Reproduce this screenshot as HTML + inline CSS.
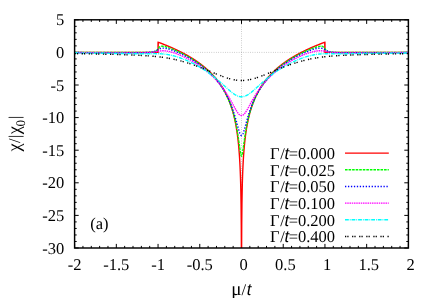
<!DOCTYPE html>
<html><head><meta charset="utf-8"><title>chart</title>
<style>html,body{margin:0;padding:0;background:#fff;}svg{display:block;will-change:transform;}text{text-rendering:geometricPrecision;}</style>
</head><body>
<svg width="425" height="298" viewBox="0 0 425 298">
<rect x="0" y="0" width="425" height="298" fill="#fff"/>
<g stroke="#000" stroke-width="0.5" stroke-opacity="0.5" stroke-dasharray="0.76 1.52" fill="none">
<line x1="74.60" y1="52.40" x2="408.40" y2="52.40"/>
<line x1="241.50" y1="19.80" x2="241.50" y2="248.00"/>
</g>
<path d="M74.60,248.00 v-4.10 M74.60,19.80 v4.10 M82.94,248.00 v-2.10 M82.94,19.80 v2.10 M91.29,248.00 v-2.10 M91.29,19.80 v2.10 M99.63,248.00 v-2.10 M99.63,19.80 v2.10 M107.98,248.00 v-2.10 M107.98,19.80 v2.10 M116.32,248.00 v-4.10 M116.32,19.80 v4.10 M124.67,248.00 v-2.10 M124.67,19.80 v2.10 M133.01,248.00 v-2.10 M133.01,19.80 v2.10 M141.36,248.00 v-2.10 M141.36,19.80 v2.10 M149.70,248.00 v-2.10 M149.70,19.80 v2.10 M158.05,248.00 v-4.10 M158.05,19.80 v4.10 M166.39,248.00 v-2.10 M166.39,19.80 v2.10 M174.74,248.00 v-2.10 M174.74,19.80 v2.10 M183.08,248.00 v-2.10 M183.08,19.80 v2.10 M191.43,248.00 v-2.10 M191.43,19.80 v2.10 M199.77,248.00 v-4.10 M199.77,19.80 v4.10 M208.12,248.00 v-2.10 M208.12,19.80 v2.10 M216.47,248.00 v-2.10 M216.47,19.80 v2.10 M224.81,248.00 v-2.10 M224.81,19.80 v2.10 M233.15,248.00 v-2.10 M233.15,19.80 v2.10 M241.50,248.00 v-4.10 M241.50,19.80 v4.10 M249.84,248.00 v-2.10 M249.84,19.80 v2.10 M258.19,248.00 v-2.10 M258.19,19.80 v2.10 M266.53,248.00 v-2.10 M266.53,19.80 v2.10 M274.88,248.00 v-2.10 M274.88,19.80 v2.10 M283.22,248.00 v-4.10 M283.22,19.80 v4.10 M291.57,248.00 v-2.10 M291.57,19.80 v2.10 M299.91,248.00 v-2.10 M299.91,19.80 v2.10 M308.26,248.00 v-2.10 M308.26,19.80 v2.10 M316.61,248.00 v-2.10 M316.61,19.80 v2.10 M324.95,248.00 v-4.10 M324.95,19.80 v4.10 M333.29,248.00 v-2.10 M333.29,19.80 v2.10 M341.64,248.00 v-2.10 M341.64,19.80 v2.10 M349.99,248.00 v-2.10 M349.99,19.80 v2.10 M358.33,248.00 v-2.10 M358.33,19.80 v2.10 M366.67,248.00 v-4.10 M366.67,19.80 v4.10 M375.02,248.00 v-2.10 M375.02,19.80 v2.10 M383.37,248.00 v-2.10 M383.37,19.80 v2.10 M391.71,248.00 v-2.10 M391.71,19.80 v2.10 M400.05,248.00 v-2.10 M400.05,19.80 v2.10 M408.40,248.00 v-4.10 M408.40,19.80 v4.10 M74.60,248.00 h4.10 M408.40,248.00 h-4.10 M74.60,241.48 h2.10 M408.40,241.48 h-2.10 M74.60,234.96 h2.10 M408.40,234.96 h-2.10 M74.60,228.44 h2.10 M408.40,228.44 h-2.10 M74.60,221.92 h2.10 M408.40,221.92 h-2.10 M74.60,215.40 h4.10 M408.40,215.40 h-4.10 M74.60,208.88 h2.10 M408.40,208.88 h-2.10 M74.60,202.36 h2.10 M408.40,202.36 h-2.10 M74.60,195.84 h2.10 M408.40,195.84 h-2.10 M74.60,189.32 h2.10 M408.40,189.32 h-2.10 M74.60,182.80 h4.10 M408.40,182.80 h-4.10 M74.60,176.28 h2.10 M408.40,176.28 h-2.10 M74.60,169.76 h2.10 M408.40,169.76 h-2.10 M74.60,163.24 h2.10 M408.40,163.24 h-2.10 M74.60,156.72 h2.10 M408.40,156.72 h-2.10 M74.60,150.20 h4.10 M408.40,150.20 h-4.10 M74.60,143.68 h2.10 M408.40,143.68 h-2.10 M74.60,137.16 h2.10 M408.40,137.16 h-2.10 M74.60,130.64 h2.10 M408.40,130.64 h-2.10 M74.60,124.12 h2.10 M408.40,124.12 h-2.10 M74.60,117.60 h4.10 M408.40,117.60 h-4.10 M74.60,111.08 h2.10 M408.40,111.08 h-2.10 M74.60,104.56 h2.10 M408.40,104.56 h-2.10 M74.60,98.04 h2.10 M408.40,98.04 h-2.10 M74.60,91.52 h2.10 M408.40,91.52 h-2.10 M74.60,85.00 h4.10 M408.40,85.00 h-4.10 M74.60,78.48 h2.10 M408.40,78.48 h-2.10 M74.60,71.96 h2.10 M408.40,71.96 h-2.10 M74.60,65.44 h2.10 M408.40,65.44 h-2.10 M74.60,58.92 h2.10 M408.40,58.92 h-2.10 M74.60,52.40 h4.10 M408.40,52.40 h-4.10 M74.60,45.88 h2.10 M408.40,45.88 h-2.10 M74.60,39.36 h2.10 M408.40,39.36 h-2.10 M74.60,32.84 h2.10 M408.40,32.84 h-2.10 M74.60,26.32 h2.10 M408.40,26.32 h-2.10 M74.60,19.80 h4.10 M408.40,19.80 h-4.10" stroke="#000" stroke-width="1.0" fill="none"/>
<clipPath id="cp"><rect x="74.60" y="19.80" width="333.80" height="228.20"/></clipPath>
<g fill="none" stroke-width="1.40" stroke-linejoin="miter" clip-path="url(#cp)">
<path d="M74.60,52.40 L158.05,52.40 L158.05,42.16 L158.05,52.40 L158.26,42.24 L158.47,42.31 L158.68,42.39 L158.89,42.47 L159.10,42.55 L159.30,42.62 L159.51,42.70 L159.72,42.78 L159.93,42.86 L160.14,42.94 L160.35,43.02 L160.56,43.10 L160.77,43.18 L160.98,43.26 L161.19,43.34 L161.40,43.42 L161.61,43.50 L161.81,43.58 L162.02,43.66 L162.23,43.74 L162.44,43.82 L162.65,43.90 L162.86,43.98 L163.07,44.06 L163.28,44.15 L163.49,44.23 L163.70,44.31 L163.91,44.39 L164.11,44.48 L164.32,44.56 L164.53,44.64 L164.74,44.73 L164.95,44.81 L165.16,44.89 L165.37,44.98 L165.58,45.06 L165.79,45.15 L166.00,45.23 L166.21,45.32 L166.42,45.40 L166.62,45.49 L166.83,45.58 L167.04,45.66 L167.25,45.75 L167.46,45.83 L167.67,45.92 L167.88,46.01 L168.09,46.10 L168.30,46.18 L168.51,46.27 L168.72,46.36 L168.92,46.45 L169.13,46.54 L169.34,46.63 L169.55,46.72 L169.76,46.80 L169.97,46.89 L170.18,46.98 L170.39,47.07 L170.60,47.16 L170.81,47.26 L171.02,47.35 L171.22,47.44 L171.43,47.53 L171.64,47.62 L171.85,47.71 L172.06,47.81 L172.27,47.90 L172.48,47.99 L172.69,48.08 L172.90,48.18 L173.11,48.27 L173.32,48.37 L173.53,48.46 L173.73,48.56 L173.94,48.65 L174.15,48.75 L174.36,48.84 L174.57,48.94 L174.78,49.03 L174.99,49.13 L175.20,49.23 L175.41,49.32 L175.62,49.42 L175.83,49.52 L176.03,49.62 L176.24,49.71 L176.45,49.81 L176.66,49.91 L176.87,50.01 L177.08,50.11 L177.29,50.21 L177.50,50.31 L177.71,50.41 L177.92,50.51 L178.13,50.61 L178.34,50.72 L178.54,50.82 L178.75,50.92 L178.96,51.02 L179.17,51.12 L179.38,51.23 L179.59,51.33 L179.80,51.44 L180.01,51.54 L180.22,51.64 L180.43,51.75 L180.64,51.86 L180.84,51.96 L181.05,52.07 L181.26,52.17 L181.47,52.28 L181.68,52.39 L181.89,52.50 L182.10,52.60 L182.31,52.71 L182.52,52.82 L182.73,52.93 L182.94,53.04 L183.15,53.15 L183.35,53.26 L183.56,53.37 L183.77,53.48 L183.98,53.59 L184.19,53.70 L184.40,53.82 L184.61,53.93 L184.82,54.04 L185.03,54.16 L185.24,54.27 L185.45,54.38 L185.65,54.50 L185.86,54.61 L186.07,54.73 L186.28,54.85 L186.49,54.96 L186.70,55.08 L186.91,55.20 L187.12,55.32 L187.33,55.43 L187.54,55.55 L187.75,55.67 L187.96,55.79 L188.16,55.91 L188.37,56.03 L188.58,56.15 L188.79,56.28 L189.00,56.40 L189.21,56.52 L189.42,56.64 L189.63,56.77 L189.84,56.89 L190.05,57.02 L190.26,57.14 L190.46,57.27 L190.67,57.39 L190.88,57.52 L191.09,57.65 L191.30,57.77 L191.51,57.90 L191.72,58.03 L191.93,58.16 L192.14,58.29 L192.35,58.42 L192.56,58.55 L192.77,58.68 L192.97,58.82 L193.18,58.95 L193.39,59.08 L193.60,59.22 L193.81,59.35 L194.02,59.49 L194.23,59.62 L194.44,59.76 L194.65,59.89 L194.86,60.03 L195.07,60.17 L195.27,60.31 L195.48,60.45 L195.69,60.59 L195.90,60.73 L196.11,60.87 L196.32,61.01 L196.53,61.15 L196.74,61.30 L196.95,61.44 L197.16,61.59 L197.37,61.73 L197.57,61.88 L197.78,62.02 L197.99,62.17 L198.20,62.32 L198.41,62.47 L198.62,62.62 L198.83,62.77 L199.04,62.92 L199.25,63.07 L199.46,63.22 L199.67,63.38 L199.88,63.53 L200.08,63.68 L200.29,63.84 L200.50,64.00 L200.71,64.15 L200.92,64.31 L201.13,64.47 L201.34,64.63 L201.55,64.79 L201.76,64.95 L201.97,65.11 L202.18,65.28 L202.38,65.44 L202.59,65.60 L202.80,65.77 L203.01,65.94 L203.22,66.10 L203.43,66.27 L203.64,66.44 L203.85,66.61 L204.06,66.78 L204.27,66.95 L204.48,67.13 L204.69,67.30 L204.89,67.48 L205.10,67.65 L205.31,67.83 L205.52,68.01 L205.73,68.19 L205.94,68.37 L206.15,68.55 L206.36,68.73 L206.57,68.91 L206.78,69.10 L206.99,69.28 L207.19,69.47 L207.40,69.66 L207.61,69.85 L207.82,70.04 L208.03,70.23 L208.24,70.42 L208.45,70.62 L208.66,70.81 L208.87,71.01 L209.08,71.20 L209.29,71.40 L209.50,71.60 L209.70,71.81 L209.91,72.01 L210.12,72.21 L210.33,72.42 L210.54,72.62 L210.75,72.83 L210.96,73.04 L211.17,73.25 L211.38,73.47 L211.59,73.68 L211.80,73.90 L212.00,74.11 L212.21,74.33 L212.42,74.55 L212.63,74.77 L212.84,75.00 L213.05,75.22 L213.26,75.45 L213.47,75.68 L213.68,75.91 L213.89,76.14 L214.10,76.37 L214.31,76.61 L214.51,76.84 L214.72,77.08 L214.93,77.32 L215.14,77.57 L215.35,77.81 L215.56,78.06 L215.77,78.31 L215.98,78.56 L216.19,78.81 L216.40,79.07 L216.61,79.32 L216.81,79.58 L217.02,79.84 L217.23,80.11 L217.44,80.37 L217.65,80.64 L217.86,80.91 L218.07,81.19 L218.28,81.46 L218.49,81.74 L218.70,82.02 L218.91,82.30 L219.12,82.59 L219.32,82.88 L219.53,83.17 L219.74,83.46 L219.95,83.76 L220.16,84.06 L220.37,84.36 L220.58,84.67 L220.79,84.97 L221.00,85.29 L221.21,85.60 L221.42,85.92 L221.62,86.24 L221.83,86.57 L222.04,86.89 L222.25,87.23 L222.46,87.56 L222.67,87.90 L222.88,88.24 L223.09,88.59 L223.30,88.94 L223.51,89.30 L223.72,89.66 L223.92,90.02 L224.13,90.39 L224.34,90.76 L224.55,91.14 L224.76,91.52 L224.97,91.91 L225.18,92.30 L225.39,92.69 L225.60,93.09 L225.81,93.50 L226.02,93.91 L226.23,94.33 L226.43,94.75 L226.64,95.18 L226.85,95.62 L227.06,96.06 L227.27,96.51 L227.48,96.96 L227.69,97.43 L227.90,97.90 L228.11,98.37 L228.32,98.85 L228.53,99.35 L228.73,99.85 L228.94,100.35 L229.15,100.87 L229.36,101.39 L229.57,101.93 L229.78,102.47 L229.99,103.02 L230.20,103.59 L230.41,104.16 L230.62,104.75 L230.83,105.34 L231.04,105.95 L231.24,106.57 L231.45,107.20 L231.66,107.85 L231.87,108.51 L232.08,109.18 L232.29,109.87 L232.50,110.58 L232.71,111.30 L232.92,112.04 L233.13,112.80 L233.34,113.58 L233.54,114.37 L233.75,115.19 L233.96,116.03 L234.17,116.90 L234.38,117.79 L234.59,118.70 L234.80,119.65 L235.01,120.62 L235.22,121.63 L235.43,122.67 L235.64,123.75 L235.85,124.86 L236.05,126.02 L236.26,127.22 L236.47,128.47 L236.68,129.78 L236.89,131.14 L237.10,132.57 L237.31,134.07 L237.52,135.64 L237.73,137.30 L237.94,139.05 L238.15,140.91 L238.35,142.89 L238.56,145.00 L238.77,147.27 L238.98,149.72 L239.19,152.38 L239.40,155.30 L239.61,158.53 L239.82,162.13 L240.03,166.21 L240.24,170.92 L240.45,176.48 L240.66,183.27 L240.86,192.01 L241.07,204.27 L241.28,224.97 L241.40,248.00 L241.60,248.00 L241.72,224.97 L241.93,204.27 L242.14,192.01 L242.34,183.27 L242.55,176.48 L242.76,170.92 L242.97,166.21 L243.18,162.13 L243.39,158.53 L243.60,155.30 L243.81,152.38 L244.02,149.72 L244.23,147.27 L244.44,145.00 L244.65,142.89 L244.85,140.91 L245.06,139.05 L245.27,137.30 L245.48,135.64 L245.69,134.07 L245.90,132.57 L246.11,131.14 L246.32,129.78 L246.53,128.47 L246.74,127.22 L246.95,126.02 L247.15,124.86 L247.36,123.75 L247.57,122.67 L247.78,121.63 L247.99,120.62 L248.20,119.65 L248.41,118.70 L248.62,117.79 L248.83,116.90 L249.04,116.03 L249.25,115.19 L249.46,114.37 L249.66,113.58 L249.87,112.80 L250.08,112.04 L250.29,111.30 L250.50,110.58 L250.71,109.87 L250.92,109.18 L251.13,108.51 L251.34,107.85 L251.55,107.20 L251.76,106.57 L251.96,105.95 L252.17,105.34 L252.38,104.75 L252.59,104.16 L252.80,103.59 L253.01,103.02 L253.22,102.47 L253.43,101.93 L253.64,101.39 L253.85,100.87 L254.06,100.35 L254.27,99.85 L254.47,99.35 L254.68,98.85 L254.89,98.37 L255.10,97.90 L255.31,97.43 L255.52,96.96 L255.73,96.51 L255.94,96.06 L256.15,95.62 L256.36,95.18 L256.57,94.75 L256.77,94.33 L256.98,93.91 L257.19,93.50 L257.40,93.09 L257.61,92.69 L257.82,92.30 L258.03,91.91 L258.24,91.52 L258.45,91.14 L258.66,90.76 L258.87,90.39 L259.08,90.02 L259.28,89.66 L259.49,89.30 L259.70,88.94 L259.91,88.59 L260.12,88.24 L260.33,87.90 L260.54,87.56 L260.75,87.23 L260.96,86.89 L261.17,86.57 L261.38,86.24 L261.58,85.92 L261.79,85.60 L262.00,85.29 L262.21,84.97 L262.42,84.67 L262.63,84.36 L262.84,84.06 L263.05,83.76 L263.26,83.46 L263.47,83.17 L263.68,82.88 L263.88,82.59 L264.09,82.30 L264.30,82.02 L264.51,81.74 L264.72,81.46 L264.93,81.19 L265.14,80.91 L265.35,80.64 L265.56,80.37 L265.77,80.11 L265.98,79.84 L266.19,79.58 L266.39,79.32 L266.60,79.07 L266.81,78.81 L267.02,78.56 L267.23,78.31 L267.44,78.06 L267.65,77.81 L267.86,77.57 L268.07,77.32 L268.28,77.08 L268.49,76.84 L268.69,76.61 L268.90,76.37 L269.11,76.14 L269.32,75.91 L269.53,75.68 L269.74,75.45 L269.95,75.22 L270.16,75.00 L270.37,74.77 L270.58,74.55 L270.79,74.33 L271.00,74.11 L271.20,73.90 L271.41,73.68 L271.62,73.47 L271.83,73.25 L272.04,73.04 L272.25,72.83 L272.46,72.62 L272.67,72.42 L272.88,72.21 L273.09,72.01 L273.30,71.81 L273.50,71.60 L273.71,71.40 L273.92,71.20 L274.13,71.01 L274.34,70.81 L274.55,70.62 L274.76,70.42 L274.97,70.23 L275.18,70.04 L275.39,69.85 L275.60,69.66 L275.81,69.47 L276.01,69.28 L276.22,69.10 L276.43,68.91 L276.64,68.73 L276.85,68.55 L277.06,68.37 L277.27,68.19 L277.48,68.01 L277.69,67.83 L277.90,67.65 L278.11,67.48 L278.31,67.30 L278.52,67.13 L278.73,66.95 L278.94,66.78 L279.15,66.61 L279.36,66.44 L279.57,66.27 L279.78,66.10 L279.99,65.94 L280.20,65.77 L280.41,65.60 L280.62,65.44 L280.82,65.28 L281.03,65.11 L281.24,64.95 L281.45,64.79 L281.66,64.63 L281.87,64.47 L282.08,64.31 L282.29,64.15 L282.50,64.00 L282.71,63.84 L282.92,63.68 L283.12,63.53 L283.33,63.38 L283.54,63.22 L283.75,63.07 L283.96,62.92 L284.17,62.77 L284.38,62.62 L284.59,62.47 L284.80,62.32 L285.01,62.17 L285.22,62.02 L285.43,61.88 L285.63,61.73 L285.84,61.59 L286.05,61.44 L286.26,61.30 L286.47,61.15 L286.68,61.01 L286.89,60.87 L287.10,60.73 L287.31,60.59 L287.52,60.45 L287.73,60.31 L287.93,60.17 L288.14,60.03 L288.35,59.89 L288.56,59.76 L288.77,59.62 L288.98,59.49 L289.19,59.35 L289.40,59.22 L289.61,59.08 L289.82,58.95 L290.03,58.82 L290.23,58.68 L290.44,58.55 L290.65,58.42 L290.86,58.29 L291.07,58.16 L291.28,58.03 L291.49,57.90 L291.70,57.77 L291.91,57.65 L292.12,57.52 L292.33,57.39 L292.54,57.27 L292.74,57.14 L292.95,57.02 L293.16,56.89 L293.37,56.77 L293.58,56.64 L293.79,56.52 L294.00,56.40 L294.21,56.28 L294.42,56.15 L294.63,56.03 L294.84,55.91 L295.04,55.79 L295.25,55.67 L295.46,55.55 L295.67,55.43 L295.88,55.32 L296.09,55.20 L296.30,55.08 L296.51,54.96 L296.72,54.85 L296.93,54.73 L297.14,54.61 L297.35,54.50 L297.55,54.38 L297.76,54.27 L297.97,54.16 L298.18,54.04 L298.39,53.93 L298.60,53.82 L298.81,53.70 L299.02,53.59 L299.23,53.48 L299.44,53.37 L299.65,53.26 L299.85,53.15 L300.06,53.04 L300.27,52.93 L300.48,52.82 L300.69,52.71 L300.90,52.60 L301.11,52.50 L301.32,52.39 L301.53,52.28 L301.74,52.17 L301.95,52.07 L302.16,51.96 L302.36,51.86 L302.57,51.75 L302.78,51.64 L302.99,51.54 L303.20,51.44 L303.41,51.33 L303.62,51.23 L303.83,51.12 L304.04,51.02 L304.25,50.92 L304.46,50.82 L304.66,50.72 L304.87,50.61 L305.08,50.51 L305.29,50.41 L305.50,50.31 L305.71,50.21 L305.92,50.11 L306.13,50.01 L306.34,49.91 L306.55,49.81 L306.76,49.71 L306.97,49.62 L307.17,49.52 L307.38,49.42 L307.59,49.32 L307.80,49.23 L308.01,49.13 L308.22,49.03 L308.43,48.94 L308.64,48.84 L308.85,48.75 L309.06,48.65 L309.27,48.56 L309.47,48.46 L309.68,48.37 L309.89,48.27 L310.10,48.18 L310.31,48.08 L310.52,47.99 L310.73,47.90 L310.94,47.81 L311.15,47.71 L311.36,47.62 L311.57,47.53 L311.78,47.44 L311.98,47.35 L312.19,47.26 L312.40,47.16 L312.61,47.07 L312.82,46.98 L313.03,46.89 L313.24,46.80 L313.45,46.72 L313.66,46.63 L313.87,46.54 L314.08,46.45 L314.28,46.36 L314.49,46.27 L314.70,46.18 L314.91,46.10 L315.12,46.01 L315.33,45.92 L315.54,45.83 L315.75,45.75 L315.96,45.66 L316.17,45.58 L316.38,45.49 L316.58,45.40 L316.79,45.32 L317.00,45.23 L317.21,45.15 L317.42,45.06 L317.63,44.98 L317.84,44.89 L318.05,44.81 L318.26,44.73 L318.47,44.64 L318.68,44.56 L318.89,44.48 L319.09,44.39 L319.30,44.31 L319.51,44.23 L319.72,44.15 L319.93,44.06 L320.14,43.98 L320.35,43.90 L320.56,43.82 L320.77,43.74 L320.98,43.66 L321.19,43.58 L321.39,43.50 L321.60,43.42 L321.81,43.34 L322.02,43.26 L322.23,43.18 L322.44,43.10 L322.65,43.02 L322.86,42.94 L323.07,42.86 L323.28,42.78 L323.49,42.70 L323.70,42.62 L323.90,42.55 L324.11,42.47 L324.32,42.39 L324.53,42.31 L324.74,42.24 L324.95,52.40 L324.95,42.16 L324.95,52.40 L408.40,52.40" stroke="#ff0000"/>
<path d="M74.60,52.48 L75.43,52.48 L76.27,52.48 L77.10,52.48 L77.94,52.48 L78.77,52.48 L79.61,52.48 L80.44,52.49 L81.28,52.49 L82.11,52.49 L82.94,52.49 L83.78,52.49 L84.61,52.49 L85.45,52.49 L86.28,52.49 L87.12,52.49 L87.95,52.49 L88.79,52.49 L89.62,52.50 L90.46,52.50 L91.29,52.50 L92.12,52.50 L92.96,52.50 L93.79,52.50 L94.63,52.50 L95.46,52.50 L96.30,52.50 L97.13,52.50 L97.97,52.51 L98.80,52.51 L99.63,52.51 L100.47,52.51 L101.30,52.51 L102.14,52.51 L102.97,52.51 L103.81,52.51 L104.64,52.51 L105.48,52.52 L106.31,52.52 L107.15,52.52 L107.98,52.52 L108.81,52.52 L109.65,52.52 L110.48,52.52 L111.32,52.52 L112.15,52.53 L112.99,52.53 L113.82,52.53 L114.66,52.53 L115.49,52.53 L116.32,52.53 L117.16,52.53 L117.99,52.53 L118.83,52.54 L119.66,52.54 L120.50,52.54 L121.33,52.54 L122.17,52.54 L123.00,52.54 L123.84,52.54 L124.67,52.54 L125.50,52.54 L126.34,52.54 L127.17,52.55 L128.01,52.55 L128.84,52.55 L129.68,52.55 L130.51,52.55 L131.35,52.55 L132.18,52.55 L133.01,52.55 L133.85,52.55 L134.68,52.55 L135.52,52.54 L136.35,52.54 L137.19,52.54 L138.02,52.54 L138.86,52.53 L139.69,52.53 L140.53,52.53 L141.36,52.52 L142.19,52.51 L143.03,52.50 L143.86,52.49 L144.70,52.48 L145.53,52.46 L146.37,52.45 L147.20,52.42 L148.04,52.39 L148.87,52.36 L149.70,52.31 L150.12,52.29 L150.54,52.26 L150.54,52.26 L150.96,52.22 L151.37,52.19 L151.79,52.14 L152.21,52.09 L152.21,52.09 L152.63,52.03 L153.04,51.96 L153.46,51.88 L153.88,51.78 L153.88,51.78 L154.29,51.67 L154.71,51.53 L155.13,51.36 L155.55,51.15 L155.96,50.90 L156.38,50.58 L156.80,50.19 L157.22,49.73 L157.63,49.20 L158.05,48.63 L158.47,48.07 L158.88,47.57 L159.30,47.16 L159.72,46.83 L160.14,46.59 L160.55,46.42 L160.97,46.31 L161.39,46.24 L161.39,46.24 L161.81,46.21 L162.22,46.21 L162.22,46.21 L162.64,46.23 L163.06,46.28 L163.06,46.28 L163.47,46.33 L163.89,46.40 L163.89,46.40 L164.31,46.49 L164.73,46.58 L164.73,46.58 L165.14,46.68 L165.56,46.79 L165.56,46.79 L165.98,46.90 L166.39,47.02 L166.39,47.02 L167.23,47.28 L168.06,47.55 L168.90,47.84 L169.73,48.13 L170.57,48.44 L171.40,48.76 L172.24,49.09 L173.07,49.43 L173.91,49.77 L174.74,50.12 L175.57,50.48 L176.41,50.85 L177.24,51.22 L178.08,51.60 L178.91,51.99 L179.75,52.38 L180.58,52.78 L181.42,53.19 L182.25,53.60 L183.08,54.02 L183.92,54.45 L184.75,54.89 L185.59,55.33 L186.42,55.78 L187.26,56.24 L188.09,56.70 L188.93,57.18 L189.76,57.66 L190.60,58.15 L191.43,58.65 L192.26,59.15 L193.10,59.67 L193.93,60.20 L194.77,60.73 L195.60,61.28 L196.44,61.83 L197.27,62.40 L198.11,62.98 L198.94,63.57 L199.77,64.17 L200.61,64.79 L201.44,65.41 L202.28,66.05 L203.11,66.71 L203.95,67.38 L204.78,68.06 L205.62,68.76 L206.45,69.48 L207.29,70.21 L208.12,70.96 L208.95,71.73 L209.79,72.53 L210.62,73.34 L211.46,74.17 L212.29,75.03 L213.13,75.92 L213.96,76.82 L214.80,77.76 L215.63,78.73 L216.46,79.73 L217.30,80.76 L218.13,81.83 L218.97,82.93 L219.80,84.08 L220.64,85.27 L221.47,86.51 L222.31,87.80 L223.14,89.15 L223.98,90.56 L224.81,92.04 L225.64,93.58 L226.48,95.21 L227.31,96.93 L228.15,98.75 L228.98,100.69 L228.98,100.69 L229.19,101.19 L229.40,101.70 L229.61,102.22 L229.82,102.74 L229.82,102.74 L230.03,103.28 L230.23,103.82 L230.44,104.38 L230.65,104.94 L230.65,104.94 L230.86,105.52 L231.07,106.10 L231.28,106.70 L231.49,107.31 L231.49,107.31 L231.69,107.93 L231.90,108.56 L232.11,109.20 L232.32,109.86 L232.32,109.86 L232.53,110.53 L232.74,111.21 L232.95,111.91 L233.15,112.63 L233.15,112.63 L233.36,113.36 L233.57,114.11 L233.78,114.87 L233.99,115.65 L233.99,115.65 L234.20,116.46 L234.41,117.28 L234.62,118.12 L234.82,118.98 L234.82,118.98 L235.03,119.87 L235.24,120.78 L235.45,121.71 L235.66,122.67 L235.66,122.67 L235.87,123.66 L236.08,124.67 L236.28,125.72 L236.49,126.79 L236.49,126.79 L236.70,127.90 L236.91,129.04 L237.12,130.22 L237.33,131.43 L237.33,131.43 L237.54,132.67 L237.74,133.96 L237.95,135.28 L238.16,136.64 L238.16,136.64 L238.37,138.04 L238.58,139.48 L238.79,140.95 L239.00,142.45 L239.00,142.45 L239.21,143.97 L239.41,145.50 L239.62,147.04 L239.83,148.55 L239.83,148.55 L240.04,150.02 L240.25,151.43 L240.46,152.72 L240.67,153.87 L240.67,153.87 L240.87,154.83 L241.08,155.55 L241.29,156.00 L241.50,156.15 L241.71,156.00 L241.92,155.55 L242.13,154.83 L242.33,153.87 L242.33,153.87 L242.54,152.72 L242.75,151.43 L242.96,150.02 L243.17,148.55 L243.38,147.04 L243.59,145.50 L243.79,143.97 L244.00,142.45 L244.00,142.45 L244.21,140.95 L244.42,139.48 L244.63,138.04 L244.84,136.64 L244.84,136.64 L245.05,135.28 L245.26,133.96 L245.46,132.67 L245.67,131.43 L245.67,131.43 L245.88,130.22 L246.09,129.04 L246.30,127.90 L246.51,126.79 L246.51,126.79 L246.72,125.72 L246.92,124.67 L247.13,123.66 L247.34,122.67 L247.34,122.67 L247.55,121.71 L247.76,120.78 L247.97,119.87 L248.18,118.98 L248.18,118.98 L248.38,118.12 L248.59,117.28 L248.80,116.46 L249.01,115.65 L249.01,115.65 L249.22,114.87 L249.43,114.11 L249.64,113.36 L249.84,112.63 L249.84,112.63 L250.05,111.91 L250.26,111.21 L250.47,110.53 L250.68,109.86 L250.68,109.86 L250.89,109.20 L251.10,108.56 L251.31,107.93 L251.51,107.31 L251.51,107.31 L251.72,106.70 L251.93,106.10 L252.14,105.52 L252.35,104.94 L252.35,104.94 L252.56,104.38 L252.77,103.82 L252.97,103.28 L253.18,102.74 L253.18,102.74 L253.39,102.22 L253.60,101.70 L253.81,101.19 L254.02,100.69 L254.02,100.69 L254.85,98.75 L255.69,96.93 L256.52,95.21 L257.36,93.58 L258.19,92.04 L259.02,90.56 L259.86,89.15 L260.69,87.80 L261.53,86.51 L262.36,85.27 L263.20,84.08 L264.03,82.93 L264.87,81.83 L265.70,80.76 L266.53,79.73 L267.37,78.73 L268.20,77.76 L269.04,76.82 L269.87,75.92 L270.71,75.03 L271.54,74.17 L272.38,73.34 L273.21,72.53 L274.05,71.73 L274.88,70.96 L275.71,70.21 L276.55,69.48 L277.38,68.76 L278.22,68.06 L279.05,67.38 L279.89,66.71 L280.72,66.05 L281.56,65.41 L282.39,64.79 L283.22,64.17 L284.06,63.57 L284.89,62.98 L285.73,62.40 L286.56,61.83 L287.40,61.28 L288.23,60.73 L289.07,60.20 L289.90,59.67 L290.74,59.15 L291.57,58.65 L292.40,58.15 L293.24,57.66 L294.07,57.18 L294.91,56.70 L295.74,56.24 L296.58,55.78 L297.41,55.33 L298.25,54.89 L299.08,54.45 L299.91,54.02 L300.75,53.60 L301.58,53.19 L302.42,52.78 L303.25,52.38 L304.09,51.99 L304.92,51.60 L305.76,51.22 L306.59,50.85 L307.43,50.48 L308.26,50.12 L309.09,49.77 L309.93,49.43 L310.76,49.09 L311.60,48.76 L312.43,48.44 L313.27,48.13 L314.10,47.84 L314.94,47.55 L315.77,47.28 L316.60,47.02 L316.60,47.02 L317.02,46.90 L317.44,46.79 L317.44,46.79 L317.86,46.68 L318.27,46.58 L318.27,46.58 L318.69,46.49 L319.11,46.40 L319.11,46.40 L319.53,46.33 L319.94,46.28 L319.94,46.28 L320.36,46.23 L320.78,46.21 L320.78,46.21 L321.19,46.21 L321.61,46.24 L321.61,46.24 L322.03,46.31 L322.45,46.42 L322.45,46.42 L322.86,46.59 L323.28,46.83 L323.28,46.83 L323.70,47.16 L324.12,47.57 L324.12,47.57 L324.53,48.07 L324.95,48.63 L325.37,49.20 L325.78,49.73 L325.78,49.73 L326.20,50.19 L326.62,50.58 L327.04,50.90 L327.45,51.15 L327.45,51.15 L327.87,51.36 L328.29,51.53 L328.71,51.67 L329.12,51.78 L329.12,51.78 L329.54,51.88 L329.96,51.96 L330.37,52.03 L330.79,52.09 L330.79,52.09 L331.21,52.14 L331.63,52.19 L332.04,52.22 L332.46,52.26 L332.46,52.26 L332.88,52.29 L333.29,52.31 L334.13,52.36 L334.96,52.39 L335.80,52.42 L336.63,52.45 L337.47,52.46 L338.30,52.48 L339.14,52.49 L339.97,52.50 L340.81,52.51 L341.64,52.52 L342.47,52.53 L343.31,52.53 L344.14,52.53 L344.98,52.54 L345.81,52.54 L346.65,52.54 L347.48,52.54 L348.32,52.55 L349.15,52.55 L349.99,52.55 L350.82,52.55 L351.65,52.55 L352.49,52.55 L353.32,52.55 L354.16,52.55 L354.99,52.55 L355.83,52.55 L356.66,52.54 L357.50,52.54 L358.33,52.54 L359.16,52.54 L360.00,52.54 L360.83,52.54 L361.67,52.54 L362.50,52.54 L363.34,52.54 L364.17,52.54 L365.01,52.53 L365.84,52.53 L366.67,52.53 L367.51,52.53 L368.34,52.53 L369.18,52.53 L370.01,52.53 L370.85,52.53 L371.68,52.52 L372.52,52.52 L373.35,52.52 L374.19,52.52 L375.02,52.52 L375.85,52.52 L376.69,52.52 L377.52,52.52 L378.36,52.51 L379.19,52.51 L380.03,52.51 L380.86,52.51 L381.70,52.51 L382.53,52.51 L383.37,52.51 L384.20,52.51 L385.03,52.51 L385.87,52.50 L386.70,52.50 L387.54,52.50 L388.37,52.50 L389.21,52.50 L390.04,52.50 L390.88,52.50 L391.71,52.50 L392.54,52.50 L393.38,52.50 L394.21,52.49 L395.05,52.49 L395.88,52.49 L396.72,52.49 L397.55,52.49 L398.39,52.49 L399.22,52.49 L400.05,52.49 L400.89,52.49 L401.72,52.49 L402.56,52.49 L403.39,52.48 L404.23,52.48 L405.06,52.48 L405.90,52.48 L406.73,52.48 L407.57,52.48 L408.40,52.48" stroke="#00ff00" stroke-dasharray="2.600 0.950"/>
<path d="M74.60,52.56 L75.43,52.56 L76.27,52.56 L77.10,52.56 L77.94,52.57 L78.77,52.57 L79.61,52.57 L80.44,52.57 L81.28,52.57 L82.11,52.57 L82.94,52.58 L83.78,52.58 L84.61,52.58 L85.45,52.58 L86.28,52.58 L87.12,52.59 L87.95,52.59 L88.79,52.59 L89.62,52.59 L90.46,52.59 L91.29,52.59 L92.12,52.60 L92.96,52.60 L93.79,52.60 L94.63,52.60 L95.46,52.60 L96.30,52.61 L97.13,52.61 L97.97,52.61 L98.80,52.61 L99.63,52.62 L100.47,52.62 L101.30,52.62 L102.14,52.62 L102.97,52.62 L103.81,52.63 L104.64,52.63 L105.48,52.63 L106.31,52.63 L107.15,52.64 L107.98,52.64 L108.81,52.64 L109.65,52.64 L110.48,52.65 L111.32,52.65 L112.15,52.65 L112.99,52.65 L113.82,52.66 L114.66,52.66 L115.49,52.66 L116.32,52.66 L117.16,52.67 L117.99,52.67 L118.83,52.67 L119.66,52.67 L120.50,52.68 L121.33,52.68 L122.17,52.68 L123.00,52.68 L123.84,52.68 L124.67,52.69 L125.50,52.69 L126.34,52.69 L127.17,52.69 L128.01,52.69 L128.84,52.69 L129.68,52.70 L130.51,52.70 L131.35,52.70 L132.18,52.70 L133.01,52.70 L133.85,52.69 L134.68,52.69 L135.52,52.69 L136.35,52.69 L137.19,52.68 L138.02,52.68 L138.86,52.67 L139.69,52.67 L140.53,52.66 L141.36,52.65 L142.19,52.63 L143.03,52.62 L143.86,52.60 L144.70,52.58 L145.53,52.55 L146.37,52.52 L147.20,52.48 L148.04,52.43 L148.87,52.37 L149.70,52.30 L150.12,52.26 L150.54,52.21 L150.54,52.21 L150.96,52.16 L151.37,52.10 L151.79,52.04 L152.21,51.97 L152.21,51.97 L152.63,51.88 L153.04,51.79 L153.46,51.69 L153.88,51.58 L153.88,51.58 L154.29,51.45 L154.71,51.31 L155.13,51.15 L155.55,50.98 L155.96,50.79 L156.38,50.58 L156.80,50.35 L157.22,50.12 L157.63,49.88 L158.05,49.63 L158.47,49.40 L158.88,49.17 L159.30,48.96 L159.72,48.77 L160.14,48.61 L160.55,48.47 L160.97,48.36 L161.39,48.27 L161.39,48.27 L161.81,48.20 L162.22,48.16 L162.22,48.16 L162.64,48.14 L163.06,48.13 L163.06,48.13 L163.47,48.14 L163.89,48.16 L163.89,48.16 L164.31,48.20 L164.73,48.24 L164.73,48.24 L165.14,48.30 L165.56,48.37 L165.56,48.37 L165.98,48.44 L166.39,48.53 L166.39,48.53 L167.23,48.72 L168.06,48.93 L168.90,49.16 L169.73,49.41 L170.57,49.67 L171.40,49.95 L172.24,50.24 L173.07,50.55 L173.91,50.86 L174.74,51.18 L175.57,51.51 L176.41,51.86 L177.24,52.21 L178.08,52.57 L178.91,52.93 L179.75,53.31 L180.58,53.69 L181.42,54.08 L182.25,54.48 L183.08,54.88 L183.92,55.30 L184.75,55.72 L185.59,56.15 L186.42,56.58 L187.26,57.03 L188.09,57.48 L188.93,57.95 L189.76,58.42 L190.60,58.90 L191.43,59.38 L192.26,59.88 L193.10,60.39 L193.93,60.90 L194.77,61.43 L195.60,61.97 L196.44,62.51 L197.27,63.07 L198.11,63.64 L198.94,64.22 L199.77,64.81 L200.61,65.41 L201.44,66.03 L202.28,66.66 L203.11,67.31 L203.95,67.96 L204.78,68.64 L205.62,69.33 L206.45,70.03 L207.29,70.76 L208.12,71.50 L208.95,72.25 L209.79,73.03 L210.62,73.83 L211.46,74.65 L212.29,75.50 L213.13,76.36 L213.96,77.25 L214.80,78.17 L215.63,79.12 L216.46,80.10 L217.30,81.10 L218.13,82.15 L218.97,83.22 L219.80,84.34 L220.64,85.50 L221.47,86.70 L222.31,87.94 L223.14,89.24 L223.98,90.60 L224.81,92.01 L225.64,93.48 L226.48,95.03 L227.31,96.65 L228.15,98.35 L228.98,100.15 L228.98,100.15 L229.19,100.61 L229.40,101.08 L229.61,101.56 L229.82,102.04 L229.82,102.04 L230.03,102.53 L230.23,103.02 L230.44,103.53 L230.65,104.04 L230.65,104.04 L230.86,104.56 L231.07,105.08 L231.28,105.62 L231.49,106.16 L231.49,106.16 L231.69,106.71 L231.90,107.26 L232.11,107.83 L232.32,108.40 L232.32,108.40 L232.53,108.99 L232.74,109.58 L232.95,110.18 L233.15,110.79 L233.15,110.79 L233.36,111.41 L233.57,112.03 L233.78,112.67 L233.99,113.32 L233.99,113.32 L234.20,113.98 L234.41,114.64 L234.62,115.32 L234.82,116.00 L234.82,116.00 L235.03,116.70 L235.24,117.40 L235.45,118.12 L235.66,118.84 L235.66,118.84 L235.87,119.57 L236.08,120.31 L236.28,121.05 L236.49,121.80 L236.49,121.80 L236.70,122.56 L236.91,123.32 L237.12,124.09 L237.33,124.86 L237.33,124.86 L237.54,125.63 L237.74,126.39 L237.95,127.15 L238.16,127.91 L238.16,127.91 L238.37,128.65 L238.58,129.38 L238.79,130.09 L239.00,130.78 L239.00,130.78 L239.21,131.45 L239.41,132.08 L239.62,132.67 L239.83,133.23 L239.83,133.23 L240.04,133.73 L240.25,134.18 L240.46,134.57 L240.67,134.90 L240.67,134.90 L240.87,135.16 L241.08,135.35 L241.29,135.47 L241.50,135.51 L241.71,135.47 L241.92,135.35 L242.13,135.16 L242.33,134.90 L242.33,134.90 L242.54,134.57 L242.75,134.18 L242.96,133.73 L243.17,133.23 L243.38,132.67 L243.59,132.08 L243.79,131.45 L244.00,130.78 L244.00,130.78 L244.21,130.09 L244.42,129.38 L244.63,128.65 L244.84,127.91 L244.84,127.91 L245.05,127.15 L245.26,126.39 L245.46,125.63 L245.67,124.86 L245.67,124.86 L245.88,124.09 L246.09,123.32 L246.30,122.56 L246.51,121.80 L246.51,121.80 L246.72,121.05 L246.92,120.31 L247.13,119.57 L247.34,118.84 L247.34,118.84 L247.55,118.12 L247.76,117.40 L247.97,116.70 L248.18,116.00 L248.18,116.00 L248.38,115.32 L248.59,114.64 L248.80,113.98 L249.01,113.32 L249.01,113.32 L249.22,112.67 L249.43,112.03 L249.64,111.41 L249.84,110.79 L249.84,110.79 L250.05,110.18 L250.26,109.58 L250.47,108.99 L250.68,108.40 L250.68,108.40 L250.89,107.83 L251.10,107.26 L251.31,106.71 L251.51,106.16 L251.51,106.16 L251.72,105.62 L251.93,105.08 L252.14,104.56 L252.35,104.04 L252.35,104.04 L252.56,103.53 L252.77,103.02 L252.97,102.53 L253.18,102.04 L253.18,102.04 L253.39,101.56 L253.60,101.08 L253.81,100.61 L254.02,100.15 L254.02,100.15 L254.85,98.35 L255.69,96.65 L256.52,95.03 L257.36,93.48 L258.19,92.01 L259.02,90.60 L259.86,89.24 L260.69,87.94 L261.53,86.70 L262.36,85.50 L263.20,84.34 L264.03,83.22 L264.87,82.15 L265.70,81.10 L266.53,80.10 L267.37,79.12 L268.20,78.17 L269.04,77.25 L269.87,76.36 L270.71,75.50 L271.54,74.65 L272.38,73.83 L273.21,73.03 L274.05,72.25 L274.88,71.50 L275.71,70.76 L276.55,70.03 L277.38,69.33 L278.22,68.64 L279.05,67.96 L279.89,67.31 L280.72,66.66 L281.56,66.03 L282.39,65.41 L283.22,64.81 L284.06,64.22 L284.89,63.64 L285.73,63.07 L286.56,62.51 L287.40,61.97 L288.23,61.43 L289.07,60.90 L289.90,60.39 L290.74,59.88 L291.57,59.38 L292.40,58.90 L293.24,58.42 L294.07,57.95 L294.91,57.48 L295.74,57.03 L296.58,56.58 L297.41,56.15 L298.25,55.72 L299.08,55.30 L299.91,54.88 L300.75,54.48 L301.58,54.08 L302.42,53.69 L303.25,53.31 L304.09,52.93 L304.92,52.57 L305.76,52.21 L306.59,51.86 L307.43,51.51 L308.26,51.18 L309.09,50.86 L309.93,50.55 L310.76,50.24 L311.60,49.95 L312.43,49.67 L313.27,49.41 L314.10,49.16 L314.94,48.93 L315.77,48.72 L316.60,48.53 L316.60,48.53 L317.02,48.44 L317.44,48.37 L317.44,48.37 L317.86,48.30 L318.27,48.24 L318.27,48.24 L318.69,48.20 L319.11,48.16 L319.11,48.16 L319.53,48.14 L319.94,48.13 L319.94,48.13 L320.36,48.14 L320.78,48.16 L320.78,48.16 L321.19,48.20 L321.61,48.27 L321.61,48.27 L322.03,48.36 L322.45,48.47 L322.45,48.47 L322.86,48.61 L323.28,48.77 L323.28,48.77 L323.70,48.96 L324.12,49.17 L324.12,49.17 L324.53,49.40 L324.95,49.63 L325.37,49.88 L325.78,50.12 L325.78,50.12 L326.20,50.35 L326.62,50.58 L327.04,50.79 L327.45,50.98 L327.45,50.98 L327.87,51.15 L328.29,51.31 L328.71,51.45 L329.12,51.58 L329.12,51.58 L329.54,51.69 L329.96,51.79 L330.37,51.88 L330.79,51.97 L330.79,51.97 L331.21,52.04 L331.63,52.10 L332.04,52.16 L332.46,52.21 L332.46,52.21 L332.88,52.26 L333.29,52.30 L334.13,52.37 L334.96,52.43 L335.80,52.48 L336.63,52.52 L337.47,52.55 L338.30,52.58 L339.14,52.60 L339.97,52.62 L340.81,52.63 L341.64,52.65 L342.47,52.66 L343.31,52.67 L344.14,52.67 L344.98,52.68 L345.81,52.68 L346.65,52.69 L347.48,52.69 L348.32,52.69 L349.15,52.69 L349.99,52.70 L350.82,52.70 L351.65,52.70 L352.49,52.70 L353.32,52.70 L354.16,52.69 L354.99,52.69 L355.83,52.69 L356.66,52.69 L357.50,52.69 L358.33,52.69 L359.16,52.68 L360.00,52.68 L360.83,52.68 L361.67,52.68 L362.50,52.68 L363.34,52.67 L364.17,52.67 L365.01,52.67 L365.84,52.67 L366.67,52.66 L367.51,52.66 L368.34,52.66 L369.18,52.66 L370.01,52.65 L370.85,52.65 L371.68,52.65 L372.52,52.65 L373.35,52.64 L374.19,52.64 L375.02,52.64 L375.85,52.64 L376.69,52.63 L377.52,52.63 L378.36,52.63 L379.19,52.63 L380.03,52.62 L380.86,52.62 L381.70,52.62 L382.53,52.62 L383.37,52.62 L384.20,52.61 L385.03,52.61 L385.87,52.61 L386.70,52.61 L387.54,52.60 L388.37,52.60 L389.21,52.60 L390.04,52.60 L390.88,52.60 L391.71,52.59 L392.54,52.59 L393.38,52.59 L394.21,52.59 L395.05,52.59 L395.88,52.59 L396.72,52.58 L397.55,52.58 L398.39,52.58 L399.22,52.58 L400.05,52.58 L400.89,52.57 L401.72,52.57 L402.56,52.57 L403.39,52.57 L404.23,52.57 L405.06,52.57 L405.90,52.56 L406.73,52.56 L407.57,52.56 L408.40,52.56" stroke="#0000ff" stroke-dasharray="1.300 1.660"/>
<path d="M74.60,52.72 L75.43,52.72 L76.27,52.73 L77.10,52.73 L77.94,52.73 L78.77,52.73 L79.61,52.74 L80.44,52.74 L81.28,52.74 L82.11,52.75 L82.94,52.75 L83.78,52.76 L84.61,52.76 L85.45,52.76 L86.28,52.77 L87.12,52.77 L87.95,52.77 L88.79,52.78 L89.62,52.78 L90.46,52.78 L91.29,52.79 L92.12,52.79 L92.96,52.80 L93.79,52.80 L94.63,52.80 L95.46,52.81 L96.30,52.81 L97.13,52.82 L97.97,52.82 L98.80,52.83 L99.63,52.83 L100.47,52.84 L101.30,52.84 L102.14,52.84 L102.97,52.85 L103.81,52.85 L104.64,52.86 L105.48,52.86 L106.31,52.87 L107.15,52.87 L107.98,52.88 L108.81,52.88 L109.65,52.89 L110.48,52.89 L111.32,52.90 L112.15,52.90 L112.99,52.91 L113.82,52.91 L114.66,52.92 L115.49,52.92 L116.32,52.93 L117.16,52.93 L117.99,52.94 L118.83,52.94 L119.66,52.95 L120.50,52.95 L121.33,52.96 L122.17,52.96 L123.00,52.97 L123.84,52.97 L124.67,52.98 L125.50,52.98 L126.34,52.98 L127.17,52.99 L128.01,52.99 L128.84,52.99 L129.68,53.00 L130.51,53.00 L131.35,53.00 L132.18,53.00 L133.01,53.00 L133.85,53.00 L134.68,53.00 L135.52,53.00 L136.35,53.00 L137.19,52.99 L138.02,52.99 L138.86,52.98 L139.69,52.97 L140.53,52.96 L141.36,52.95 L142.19,52.93 L143.03,52.91 L143.86,52.88 L144.70,52.86 L145.53,52.82 L146.37,52.79 L147.20,52.74 L148.04,52.69 L148.87,52.63 L149.70,52.56 L150.12,52.52 L150.54,52.48 L150.54,52.48 L150.96,52.43 L151.37,52.38 L151.79,52.33 L152.21,52.28 L152.21,52.28 L152.63,52.22 L153.04,52.16 L153.46,52.10 L153.88,52.03 L153.88,52.03 L154.29,51.96 L154.71,51.89 L155.13,51.81 L155.55,51.73 L155.96,51.66 L156.38,51.58 L156.80,51.50 L157.22,51.42 L157.63,51.34 L158.05,51.26 L158.47,51.19 L158.88,51.12 L159.30,51.06 L159.72,51.00 L160.14,50.95 L160.55,50.90 L160.97,50.86 L161.39,50.83 L161.39,50.83 L161.81,50.80 L162.22,50.78 L162.22,50.78 L162.64,50.77 L163.06,50.77 L163.06,50.77 L163.47,50.78 L163.89,50.79 L163.89,50.79 L164.31,50.81 L164.73,50.84 L164.73,50.84 L165.14,50.87 L165.56,50.92 L165.56,50.92 L165.98,50.97 L166.39,51.02 L166.39,51.02 L167.23,51.15 L168.06,51.30 L168.90,51.47 L169.73,51.66 L170.57,51.87 L171.40,52.09 L172.24,52.33 L173.07,52.58 L173.91,52.84 L174.74,53.12 L175.57,53.41 L176.41,53.71 L177.24,54.02 L178.08,54.34 L178.91,54.67 L179.75,55.01 L180.58,55.36 L181.42,55.71 L182.25,56.08 L183.08,56.46 L183.92,56.84 L184.75,57.23 L185.59,57.63 L186.42,58.04 L187.26,58.46 L188.09,58.89 L188.93,59.32 L189.76,59.77 L190.60,60.22 L191.43,60.69 L192.26,61.16 L193.10,61.64 L193.93,62.13 L194.77,62.63 L195.60,63.14 L196.44,63.66 L197.27,64.20 L198.11,64.74 L198.94,65.29 L199.77,65.86 L200.61,66.43 L201.44,67.02 L202.28,67.62 L203.11,68.24 L203.95,68.87 L204.78,69.51 L205.62,70.16 L206.45,70.83 L207.29,71.52 L208.12,72.22 L208.95,72.94 L209.79,73.67 L210.62,74.42 L211.46,75.20 L212.29,75.99 L213.13,76.80 L213.96,77.63 L214.80,78.48 L215.63,79.36 L216.46,80.26 L217.30,81.19 L218.13,82.14 L218.97,83.12 L219.80,84.12 L220.64,85.16 L221.47,86.23 L222.31,87.33 L223.14,88.46 L223.98,89.63 L224.81,90.84 L225.64,92.08 L226.48,93.36 L227.31,94.68 L228.15,96.04 L228.98,97.43 L228.98,97.43 L229.19,97.79 L229.40,98.14 L229.61,98.50 L229.82,98.86 L229.82,98.86 L230.03,99.23 L230.23,99.59 L230.44,99.96 L230.65,100.33 L230.65,100.33 L230.86,100.70 L231.07,101.07 L231.28,101.45 L231.49,101.82 L231.49,101.82 L231.69,102.20 L231.90,102.58 L232.11,102.96 L232.32,103.34 L232.32,103.34 L232.53,103.72 L232.74,104.11 L232.95,104.49 L233.15,104.87 L233.15,104.87 L233.36,105.26 L233.57,105.64 L233.78,106.02 L233.99,106.40 L233.99,106.40 L234.20,106.78 L234.41,107.16 L234.62,107.54 L234.82,107.92 L234.82,107.92 L235.03,108.29 L235.24,108.66 L235.45,109.03 L235.66,109.39 L235.66,109.39 L235.87,109.75 L236.08,110.10 L236.28,110.45 L236.49,110.79 L236.49,110.79 L236.70,111.12 L236.91,111.45 L237.12,111.77 L237.33,112.08 L237.33,112.08 L237.54,112.39 L237.74,112.68 L237.95,112.96 L238.16,113.23 L238.16,113.23 L238.37,113.49 L238.58,113.73 L238.79,113.97 L239.00,114.19 L239.00,114.19 L239.21,114.39 L239.41,114.58 L239.62,114.75 L239.83,114.91 L239.83,114.91 L240.04,115.05 L240.25,115.17 L240.46,115.27 L240.67,115.36 L240.67,115.36 L240.87,115.42 L241.08,115.47 L241.29,115.50 L241.50,115.51 L241.71,115.50 L241.92,115.47 L242.13,115.42 L242.33,115.36 L242.33,115.36 L242.54,115.27 L242.75,115.17 L242.96,115.05 L243.17,114.91 L243.38,114.75 L243.59,114.58 L243.79,114.39 L244.00,114.19 L244.00,114.19 L244.21,113.97 L244.42,113.73 L244.63,113.49 L244.84,113.23 L244.84,113.23 L245.05,112.96 L245.26,112.68 L245.46,112.39 L245.67,112.08 L245.67,112.08 L245.88,111.77 L246.09,111.45 L246.30,111.12 L246.51,110.79 L246.51,110.79 L246.72,110.45 L246.92,110.10 L247.13,109.75 L247.34,109.39 L247.34,109.39 L247.55,109.03 L247.76,108.66 L247.97,108.29 L248.18,107.92 L248.18,107.92 L248.38,107.54 L248.59,107.16 L248.80,106.78 L249.01,106.40 L249.01,106.40 L249.22,106.02 L249.43,105.64 L249.64,105.26 L249.84,104.87 L249.84,104.87 L250.05,104.49 L250.26,104.11 L250.47,103.72 L250.68,103.34 L250.68,103.34 L250.89,102.96 L251.10,102.58 L251.31,102.20 L251.51,101.82 L251.51,101.82 L251.72,101.45 L251.93,101.07 L252.14,100.70 L252.35,100.33 L252.35,100.33 L252.56,99.96 L252.77,99.59 L252.97,99.23 L253.18,98.86 L253.18,98.86 L253.39,98.50 L253.60,98.14 L253.81,97.79 L254.02,97.43 L254.02,97.43 L254.85,96.04 L255.69,94.68 L256.52,93.36 L257.36,92.08 L258.19,90.84 L259.02,89.63 L259.86,88.46 L260.69,87.33 L261.53,86.23 L262.36,85.16 L263.20,84.12 L264.03,83.12 L264.87,82.14 L265.70,81.19 L266.53,80.26 L267.37,79.36 L268.20,78.48 L269.04,77.63 L269.87,76.80 L270.71,75.99 L271.54,75.20 L272.38,74.42 L273.21,73.67 L274.05,72.94 L274.88,72.22 L275.71,71.52 L276.55,70.83 L277.38,70.16 L278.22,69.51 L279.05,68.87 L279.89,68.24 L280.72,67.62 L281.56,67.02 L282.39,66.43 L283.22,65.86 L284.06,65.29 L284.89,64.74 L285.73,64.20 L286.56,63.66 L287.40,63.14 L288.23,62.63 L289.07,62.13 L289.90,61.64 L290.74,61.16 L291.57,60.69 L292.40,60.22 L293.24,59.77 L294.07,59.32 L294.91,58.89 L295.74,58.46 L296.58,58.04 L297.41,57.63 L298.25,57.23 L299.08,56.84 L299.91,56.46 L300.75,56.08 L301.58,55.71 L302.42,55.36 L303.25,55.01 L304.09,54.67 L304.92,54.34 L305.76,54.02 L306.59,53.71 L307.43,53.41 L308.26,53.12 L309.09,52.84 L309.93,52.58 L310.76,52.33 L311.60,52.09 L312.43,51.87 L313.27,51.66 L314.10,51.47 L314.94,51.30 L315.77,51.15 L316.60,51.02 L316.60,51.02 L317.02,50.97 L317.44,50.92 L317.44,50.92 L317.86,50.87 L318.27,50.84 L318.27,50.84 L318.69,50.81 L319.11,50.79 L319.11,50.79 L319.53,50.78 L319.94,50.77 L319.94,50.77 L320.36,50.77 L320.78,50.78 L320.78,50.78 L321.19,50.80 L321.61,50.83 L321.61,50.83 L322.03,50.86 L322.45,50.90 L322.45,50.90 L322.86,50.95 L323.28,51.00 L323.28,51.00 L323.70,51.06 L324.12,51.12 L324.12,51.12 L324.53,51.19 L324.95,51.26 L325.37,51.34 L325.78,51.42 L325.78,51.42 L326.20,51.50 L326.62,51.58 L327.04,51.66 L327.45,51.73 L327.45,51.73 L327.87,51.81 L328.29,51.89 L328.71,51.96 L329.12,52.03 L329.12,52.03 L329.54,52.10 L329.96,52.16 L330.37,52.22 L330.79,52.28 L330.79,52.28 L331.21,52.33 L331.63,52.38 L332.04,52.43 L332.46,52.48 L332.46,52.48 L332.88,52.52 L333.29,52.56 L334.13,52.63 L334.96,52.69 L335.80,52.74 L336.63,52.79 L337.47,52.82 L338.30,52.86 L339.14,52.88 L339.97,52.91 L340.81,52.93 L341.64,52.95 L342.47,52.96 L343.31,52.97 L344.14,52.98 L344.98,52.99 L345.81,52.99 L346.65,53.00 L347.48,53.00 L348.32,53.00 L349.15,53.00 L349.99,53.00 L350.82,53.00 L351.65,53.00 L352.49,53.00 L353.32,53.00 L354.16,52.99 L354.99,52.99 L355.83,52.99 L356.66,52.98 L357.50,52.98 L358.33,52.98 L359.16,52.97 L360.00,52.97 L360.83,52.96 L361.67,52.96 L362.50,52.95 L363.34,52.95 L364.17,52.94 L365.01,52.94 L365.84,52.93 L366.67,52.93 L367.51,52.92 L368.34,52.92 L369.18,52.91 L370.01,52.91 L370.85,52.90 L371.68,52.90 L372.52,52.89 L373.35,52.89 L374.19,52.88 L375.02,52.88 L375.85,52.87 L376.69,52.87 L377.52,52.86 L378.36,52.86 L379.19,52.85 L380.03,52.85 L380.86,52.84 L381.70,52.84 L382.53,52.84 L383.37,52.83 L384.20,52.83 L385.03,52.82 L385.87,52.82 L386.70,52.81 L387.54,52.81 L388.37,52.80 L389.21,52.80 L390.04,52.80 L390.88,52.79 L391.71,52.79 L392.54,52.78 L393.38,52.78 L394.21,52.78 L395.05,52.77 L395.88,52.77 L396.72,52.77 L397.55,52.76 L398.39,52.76 L399.22,52.76 L400.05,52.75 L400.89,52.75 L401.72,52.74 L402.56,52.74 L403.39,52.74 L404.23,52.73 L405.06,52.73 L405.90,52.73 L406.73,52.73 L407.57,52.72 L408.40,52.72" stroke="#ff00ff" stroke-dasharray="1.500 0.750"/>
<path d="M74.60,53.03 L75.43,53.04 L76.27,53.05 L77.10,53.05 L77.94,53.06 L78.77,53.07 L79.61,53.07 L80.44,53.08 L81.28,53.09 L82.11,53.09 L82.94,53.10 L83.78,53.11 L84.61,53.11 L85.45,53.12 L86.28,53.13 L87.12,53.13 L87.95,53.14 L88.79,53.15 L89.62,53.16 L90.46,53.16 L91.29,53.17 L92.12,53.18 L92.96,53.19 L93.79,53.20 L94.63,53.20 L95.46,53.21 L96.30,53.22 L97.13,53.23 L97.97,53.24 L98.80,53.25 L99.63,53.26 L100.47,53.27 L101.30,53.27 L102.14,53.28 L102.97,53.29 L103.81,53.30 L104.64,53.31 L105.48,53.32 L106.31,53.33 L107.15,53.34 L107.98,53.35 L108.81,53.36 L109.65,53.37 L110.48,53.38 L111.32,53.39 L112.15,53.40 L112.99,53.41 L113.82,53.42 L114.66,53.44 L115.49,53.45 L116.32,53.46 L117.16,53.47 L117.99,53.48 L118.83,53.49 L119.66,53.50 L120.50,53.51 L121.33,53.52 L122.17,53.53 L123.00,53.55 L123.84,53.56 L124.67,53.57 L125.50,53.58 L126.34,53.59 L127.17,53.60 L128.01,53.61 L128.84,53.62 L129.68,53.63 L130.51,53.64 L131.35,53.65 L132.18,53.66 L133.01,53.67 L133.85,53.68 L134.68,53.69 L135.52,53.70 L136.35,53.70 L137.19,53.71 L138.02,53.71 L138.86,53.72 L139.69,53.72 L140.53,53.73 L141.36,53.73 L142.19,53.73 L143.03,53.73 L143.86,53.73 L144.70,53.73 L145.53,53.73 L146.37,53.72 L147.20,53.72 L148.04,53.71 L148.87,53.71 L149.70,53.70 L150.12,53.70 L150.54,53.70 L150.54,53.70 L150.96,53.69 L151.37,53.69 L151.79,53.69 L152.21,53.68 L152.21,53.68 L152.63,53.68 L153.04,53.68 L153.46,53.68 L153.88,53.67 L153.88,53.67 L154.29,53.67 L154.71,53.67 L155.13,53.67 L155.55,53.68 L155.96,53.68 L156.38,53.68 L156.80,53.69 L157.22,53.69 L157.63,53.70 L158.05,53.71 L158.47,53.72 L158.88,53.74 L159.30,53.75 L159.72,53.77 L160.14,53.79 L160.55,53.81 L160.97,53.83 L161.39,53.86 L161.39,53.86 L161.81,53.88 L162.22,53.91 L162.22,53.91 L162.64,53.95 L163.06,53.98 L163.06,53.98 L163.47,54.02 L163.89,54.06 L163.89,54.06 L164.31,54.11 L164.73,54.16 L164.73,54.16 L165.14,54.21 L165.56,54.26 L165.56,54.26 L165.98,54.31 L166.39,54.37 L166.39,54.37 L167.23,54.50 L168.06,54.64 L168.90,54.79 L169.73,54.95 L170.57,55.12 L171.40,55.31 L172.24,55.50 L173.07,55.71 L173.91,55.92 L174.74,56.15 L175.57,56.39 L176.41,56.64 L177.24,56.89 L178.08,57.16 L178.91,57.44 L179.75,57.72 L180.58,58.01 L181.42,58.32 L182.25,58.63 L183.08,58.95 L183.92,59.28 L184.75,59.61 L185.59,59.96 L186.42,60.31 L187.26,60.67 L188.09,61.04 L188.93,61.42 L189.76,61.81 L190.60,62.20 L191.43,62.61 L192.26,63.02 L193.10,63.44 L193.93,63.87 L194.77,64.30 L195.60,64.75 L196.44,65.20 L197.27,65.66 L198.11,66.14 L198.94,66.62 L199.77,67.10 L200.61,67.60 L201.44,68.11 L202.28,68.62 L203.11,69.15 L203.95,69.69 L204.78,70.23 L205.62,70.78 L206.45,71.35 L207.29,71.92 L208.12,72.51 L208.95,73.10 L209.79,73.71 L210.62,74.32 L211.46,74.95 L212.29,75.58 L213.13,76.23 L213.96,76.89 L214.80,77.55 L215.63,78.23 L216.46,78.92 L217.30,79.62 L218.13,80.32 L218.97,81.04 L219.80,81.76 L220.64,82.49 L221.47,83.23 L222.31,83.98 L223.14,84.73 L223.98,85.49 L224.81,86.24 L225.64,87.00 L226.48,87.76 L227.31,88.51 L228.15,89.25 L228.98,89.99 L228.98,89.99 L229.19,90.17 L229.40,90.35 L229.61,90.53 L229.82,90.71 L229.82,90.71 L230.03,90.89 L230.23,91.07 L230.44,91.24 L230.65,91.42 L230.65,91.42 L230.86,91.59 L231.07,91.76 L231.28,91.93 L231.49,92.10 L231.49,92.10 L231.69,92.27 L231.90,92.43 L232.11,92.60 L232.32,92.76 L232.32,92.76 L232.53,92.92 L232.74,93.08 L232.95,93.23 L233.15,93.39 L233.15,93.39 L233.36,93.54 L233.57,93.69 L233.78,93.83 L233.99,93.98 L233.99,93.98 L234.20,94.12 L234.41,94.26 L234.62,94.39 L234.82,94.53 L234.82,94.53 L235.03,94.66 L235.24,94.78 L235.45,94.91 L235.66,95.03 L235.66,95.03 L235.87,95.14 L236.08,95.26 L236.28,95.37 L236.49,95.47 L236.49,95.47 L236.70,95.58 L236.91,95.68 L237.12,95.77 L237.33,95.86 L237.33,95.86 L237.54,95.95 L237.74,96.04 L237.95,96.12 L238.16,96.19 L238.16,96.19 L238.37,96.26 L238.58,96.33 L238.79,96.39 L239.00,96.45 L239.00,96.45 L239.21,96.50 L239.41,96.55 L239.62,96.60 L239.83,96.64 L239.83,96.64 L240.04,96.67 L240.25,96.70 L240.46,96.73 L240.67,96.75 L240.67,96.75 L240.87,96.77 L241.08,96.78 L241.29,96.79 L241.50,96.79 L241.71,96.79 L241.92,96.78 L242.13,96.77 L242.33,96.75 L242.33,96.75 L242.54,96.73 L242.75,96.70 L242.96,96.67 L243.17,96.64 L243.38,96.60 L243.59,96.55 L243.79,96.50 L244.00,96.45 L244.00,96.45 L244.21,96.39 L244.42,96.33 L244.63,96.26 L244.84,96.19 L244.84,96.19 L245.05,96.12 L245.26,96.04 L245.46,95.95 L245.67,95.86 L245.67,95.86 L245.88,95.77 L246.09,95.68 L246.30,95.58 L246.51,95.47 L246.51,95.47 L246.72,95.37 L246.92,95.26 L247.13,95.14 L247.34,95.03 L247.34,95.03 L247.55,94.91 L247.76,94.78 L247.97,94.66 L248.18,94.53 L248.18,94.53 L248.38,94.39 L248.59,94.26 L248.80,94.12 L249.01,93.98 L249.01,93.98 L249.22,93.83 L249.43,93.69 L249.64,93.54 L249.84,93.39 L249.84,93.39 L250.05,93.23 L250.26,93.08 L250.47,92.92 L250.68,92.76 L250.68,92.76 L250.89,92.60 L251.10,92.43 L251.31,92.27 L251.51,92.10 L251.51,92.10 L251.72,91.93 L251.93,91.76 L252.14,91.59 L252.35,91.42 L252.35,91.42 L252.56,91.24 L252.77,91.07 L252.97,90.89 L253.18,90.71 L253.18,90.71 L253.39,90.53 L253.60,90.35 L253.81,90.17 L254.02,89.99 L254.02,89.99 L254.85,89.25 L255.69,88.51 L256.52,87.76 L257.36,87.00 L258.19,86.24 L259.02,85.49 L259.86,84.73 L260.69,83.98 L261.53,83.23 L262.36,82.49 L263.20,81.76 L264.03,81.04 L264.87,80.32 L265.70,79.62 L266.53,78.92 L267.37,78.23 L268.20,77.55 L269.04,76.89 L269.87,76.23 L270.71,75.58 L271.54,74.95 L272.38,74.32 L273.21,73.71 L274.05,73.10 L274.88,72.51 L275.71,71.92 L276.55,71.35 L277.38,70.78 L278.22,70.23 L279.05,69.69 L279.89,69.15 L280.72,68.62 L281.56,68.11 L282.39,67.60 L283.22,67.10 L284.06,66.62 L284.89,66.14 L285.73,65.66 L286.56,65.20 L287.40,64.75 L288.23,64.30 L289.07,63.87 L289.90,63.44 L290.74,63.02 L291.57,62.61 L292.40,62.20 L293.24,61.81 L294.07,61.42 L294.91,61.04 L295.74,60.67 L296.58,60.31 L297.41,59.96 L298.25,59.61 L299.08,59.28 L299.91,58.95 L300.75,58.63 L301.58,58.32 L302.42,58.01 L303.25,57.72 L304.09,57.44 L304.92,57.16 L305.76,56.89 L306.59,56.64 L307.43,56.39 L308.26,56.15 L309.09,55.92 L309.93,55.71 L310.76,55.50 L311.60,55.31 L312.43,55.12 L313.27,54.95 L314.10,54.79 L314.94,54.64 L315.77,54.50 L316.60,54.37 L316.60,54.37 L317.02,54.31 L317.44,54.26 L317.44,54.26 L317.86,54.21 L318.27,54.16 L318.27,54.16 L318.69,54.11 L319.11,54.06 L319.11,54.06 L319.53,54.02 L319.94,53.98 L319.94,53.98 L320.36,53.95 L320.78,53.91 L320.78,53.91 L321.19,53.88 L321.61,53.86 L321.61,53.86 L322.03,53.83 L322.45,53.81 L322.45,53.81 L322.86,53.79 L323.28,53.77 L323.28,53.77 L323.70,53.75 L324.12,53.74 L324.12,53.74 L324.53,53.72 L324.95,53.71 L325.37,53.70 L325.78,53.69 L325.78,53.69 L326.20,53.69 L326.62,53.68 L327.04,53.68 L327.45,53.68 L327.45,53.68 L327.87,53.67 L328.29,53.67 L328.71,53.67 L329.12,53.67 L329.12,53.67 L329.54,53.68 L329.96,53.68 L330.37,53.68 L330.79,53.68 L330.79,53.68 L331.21,53.69 L331.63,53.69 L332.04,53.69 L332.46,53.70 L332.46,53.70 L332.88,53.70 L333.29,53.70 L334.13,53.71 L334.96,53.71 L335.80,53.72 L336.63,53.72 L337.47,53.73 L338.30,53.73 L339.14,53.73 L339.97,53.73 L340.81,53.73 L341.64,53.73 L342.47,53.73 L343.31,53.72 L344.14,53.72 L344.98,53.71 L345.81,53.71 L346.65,53.70 L347.48,53.70 L348.32,53.69 L349.15,53.68 L349.99,53.67 L350.82,53.66 L351.65,53.65 L352.49,53.64 L353.32,53.63 L354.16,53.62 L354.99,53.61 L355.83,53.60 L356.66,53.59 L357.50,53.58 L358.33,53.57 L359.16,53.56 L360.00,53.55 L360.83,53.53 L361.67,53.52 L362.50,53.51 L363.34,53.50 L364.17,53.49 L365.01,53.48 L365.84,53.47 L366.67,53.46 L367.51,53.45 L368.34,53.44 L369.18,53.42 L370.01,53.41 L370.85,53.40 L371.68,53.39 L372.52,53.38 L373.35,53.37 L374.19,53.36 L375.02,53.35 L375.85,53.34 L376.69,53.33 L377.52,53.32 L378.36,53.31 L379.19,53.30 L380.03,53.29 L380.86,53.28 L381.70,53.27 L382.53,53.27 L383.37,53.26 L384.20,53.25 L385.03,53.24 L385.87,53.23 L386.70,53.22 L387.54,53.21 L388.37,53.20 L389.21,53.20 L390.04,53.19 L390.88,53.18 L391.71,53.17 L392.54,53.16 L393.38,53.16 L394.21,53.15 L395.05,53.14 L395.88,53.13 L396.72,53.13 L397.55,53.12 L398.39,53.11 L399.22,53.11 L400.05,53.10 L400.89,53.09 L401.72,53.09 L402.56,53.08 L403.39,53.07 L404.23,53.07 L405.06,53.06 L405.90,53.05 L406.73,53.05 L407.57,53.04 L408.40,53.03" stroke="#00ffff" stroke-dasharray="3.800 0.950 0.850 0.950"/>
<path d="M74.60,53.64 L75.43,53.65 L76.27,53.66 L77.10,53.67 L77.94,53.68 L78.77,53.70 L79.61,53.71 L80.44,53.72 L81.28,53.73 L82.11,53.75 L82.94,53.76 L83.78,53.77 L84.61,53.79 L85.45,53.80 L86.28,53.82 L87.12,53.83 L87.95,53.84 L88.79,53.86 L89.62,53.87 L90.46,53.89 L91.29,53.90 L92.12,53.92 L92.96,53.93 L93.79,53.95 L94.63,53.97 L95.46,53.98 L96.30,54.00 L97.13,54.02 L97.97,54.03 L98.80,54.05 L99.63,54.07 L100.47,54.08 L101.30,54.10 L102.14,54.12 L102.97,54.14 L103.81,54.16 L104.64,54.18 L105.48,54.20 L106.31,54.22 L107.15,54.24 L107.98,54.26 L108.81,54.28 L109.65,54.30 L110.48,54.32 L111.32,54.34 L112.15,54.36 L112.99,54.39 L113.82,54.41 L114.66,54.43 L115.49,54.45 L116.32,54.48 L117.16,54.50 L117.99,54.53 L118.83,54.55 L119.66,54.58 L120.50,54.60 L121.33,54.63 L122.17,54.66 L123.00,54.68 L123.84,54.71 L124.67,54.74 L125.50,54.77 L126.34,54.80 L127.17,54.83 L128.01,54.86 L128.84,54.89 L129.68,54.92 L130.51,54.95 L131.35,54.98 L132.18,55.02 L133.01,55.05 L133.85,55.09 L134.68,55.12 L135.52,55.16 L136.35,55.20 L137.19,55.24 L138.02,55.28 L138.86,55.32 L139.69,55.36 L140.53,55.40 L141.36,55.45 L142.19,55.49 L143.03,55.54 L143.86,55.59 L144.70,55.64 L145.53,55.69 L146.37,55.74 L147.20,55.80 L148.04,55.85 L148.87,55.91 L149.70,55.97 L150.12,56.01 L150.54,56.04 L150.54,56.04 L150.96,56.07 L151.37,56.10 L151.79,56.14 L152.21,56.17 L152.21,56.17 L152.63,56.21 L153.04,56.24 L153.46,56.28 L153.88,56.32 L153.88,56.32 L154.29,56.36 L154.71,56.39 L155.13,56.43 L155.55,56.48 L155.96,56.52 L156.38,56.56 L156.80,56.60 L157.22,56.65 L157.63,56.69 L158.05,56.74 L158.47,56.78 L158.88,56.83 L159.30,56.88 L159.72,56.93 L160.14,56.98 L160.55,57.03 L160.97,57.08 L161.39,57.14 L161.39,57.14 L161.81,57.19 L162.22,57.25 L162.22,57.25 L162.64,57.30 L163.06,57.36 L163.06,57.36 L163.47,57.42 L163.89,57.48 L163.89,57.48 L164.31,57.54 L164.73,57.60 L164.73,57.60 L165.14,57.67 L165.56,57.73 L165.56,57.73 L165.98,57.80 L166.39,57.86 L166.39,57.86 L167.23,58.00 L168.06,58.14 L168.90,58.29 L169.73,58.44 L170.57,58.60 L171.40,58.76 L172.24,58.93 L173.07,59.10 L173.91,59.28 L174.74,59.47 L175.57,59.65 L176.41,59.85 L177.24,60.04 L178.08,60.25 L178.91,60.46 L179.75,60.67 L180.58,60.89 L181.42,61.11 L182.25,61.34 L183.08,61.58 L183.92,61.81 L184.75,62.06 L185.59,62.31 L186.42,62.56 L187.26,62.82 L188.09,63.08 L188.93,63.35 L189.76,63.62 L190.60,63.90 L191.43,64.18 L192.26,64.46 L193.10,64.75 L193.93,65.04 L194.77,65.34 L195.60,65.64 L196.44,65.95 L197.27,66.26 L198.11,66.57 L198.94,66.89 L199.77,67.20 L200.61,67.53 L201.44,67.85 L202.28,68.18 L203.11,68.51 L203.95,68.85 L204.78,69.19 L205.62,69.52 L206.45,69.87 L207.29,70.21 L208.12,70.55 L208.95,70.90 L209.79,71.25 L210.62,71.59 L211.46,71.94 L212.29,72.29 L213.13,72.64 L213.96,72.98 L214.80,73.33 L215.63,73.67 L216.46,74.02 L217.30,74.36 L218.13,74.69 L218.97,75.03 L219.80,75.36 L220.64,75.68 L221.47,76.01 L222.31,76.32 L223.14,76.63 L223.98,76.93 L224.81,77.22 L225.64,77.51 L226.48,77.79 L227.31,78.05 L228.15,78.31 L228.98,78.56 L228.98,78.56 L229.19,78.62 L229.40,78.68 L229.61,78.73 L229.82,78.79 L229.82,78.79 L230.03,78.85 L230.23,78.90 L230.44,78.96 L230.65,79.01 L230.65,79.01 L230.86,79.07 L231.07,79.12 L231.28,79.17 L231.49,79.22 L231.49,79.22 L231.69,79.27 L231.90,79.32 L232.11,79.37 L232.32,79.41 L232.32,79.41 L232.53,79.46 L232.74,79.51 L232.95,79.55 L233.15,79.59 L233.15,79.59 L233.36,79.64 L233.57,79.68 L233.78,79.72 L233.99,79.76 L233.99,79.76 L234.20,79.80 L234.41,79.84 L234.62,79.87 L234.82,79.91 L234.82,79.91 L235.03,79.94 L235.24,79.98 L235.45,80.01 L235.66,80.04 L235.66,80.04 L235.87,80.07 L236.08,80.10 L236.28,80.13 L236.49,80.16 L236.49,80.16 L236.70,80.18 L236.91,80.21 L237.12,80.23 L237.33,80.26 L237.33,80.26 L237.54,80.28 L237.74,80.30 L237.95,80.32 L238.16,80.34 L238.16,80.34 L238.37,80.36 L238.58,80.37 L238.79,80.39 L239.00,80.40 L239.00,80.40 L239.21,80.42 L239.41,80.43 L239.62,80.44 L239.83,80.45 L239.83,80.45 L240.04,80.46 L240.25,80.46 L240.46,80.47 L240.67,80.48 L240.67,80.48 L240.87,80.48 L241.08,80.48 L241.29,80.48 L241.50,80.48 L241.71,80.48 L241.92,80.48 L242.13,80.48 L242.33,80.48 L242.33,80.48 L242.54,80.47 L242.75,80.46 L242.96,80.46 L243.17,80.45 L243.38,80.44 L243.59,80.43 L243.79,80.42 L244.00,80.40 L244.00,80.40 L244.21,80.39 L244.42,80.37 L244.63,80.36 L244.84,80.34 L244.84,80.34 L245.05,80.32 L245.26,80.30 L245.46,80.28 L245.67,80.26 L245.67,80.26 L245.88,80.23 L246.09,80.21 L246.30,80.18 L246.51,80.16 L246.51,80.16 L246.72,80.13 L246.92,80.10 L247.13,80.07 L247.34,80.04 L247.34,80.04 L247.55,80.01 L247.76,79.98 L247.97,79.94 L248.18,79.91 L248.18,79.91 L248.38,79.87 L248.59,79.84 L248.80,79.80 L249.01,79.76 L249.01,79.76 L249.22,79.72 L249.43,79.68 L249.64,79.64 L249.84,79.59 L249.84,79.59 L250.05,79.55 L250.26,79.51 L250.47,79.46 L250.68,79.41 L250.68,79.41 L250.89,79.37 L251.10,79.32 L251.31,79.27 L251.51,79.22 L251.51,79.22 L251.72,79.17 L251.93,79.12 L252.14,79.07 L252.35,79.01 L252.35,79.01 L252.56,78.96 L252.77,78.90 L252.97,78.85 L253.18,78.79 L253.18,78.79 L253.39,78.73 L253.60,78.68 L253.81,78.62 L254.02,78.56 L254.02,78.56 L254.85,78.31 L255.69,78.05 L256.52,77.79 L257.36,77.51 L258.19,77.22 L259.02,76.93 L259.86,76.63 L260.69,76.32 L261.53,76.01 L262.36,75.68 L263.20,75.36 L264.03,75.03 L264.87,74.69 L265.70,74.36 L266.53,74.02 L267.37,73.67 L268.20,73.33 L269.04,72.98 L269.87,72.64 L270.71,72.29 L271.54,71.94 L272.38,71.59 L273.21,71.25 L274.05,70.90 L274.88,70.55 L275.71,70.21 L276.55,69.87 L277.38,69.52 L278.22,69.19 L279.05,68.85 L279.89,68.51 L280.72,68.18 L281.56,67.85 L282.39,67.53 L283.22,67.20 L284.06,66.89 L284.89,66.57 L285.73,66.26 L286.56,65.95 L287.40,65.64 L288.23,65.34 L289.07,65.04 L289.90,64.75 L290.74,64.46 L291.57,64.18 L292.40,63.90 L293.24,63.62 L294.07,63.35 L294.91,63.08 L295.74,62.82 L296.58,62.56 L297.41,62.31 L298.25,62.06 L299.08,61.81 L299.91,61.58 L300.75,61.34 L301.58,61.11 L302.42,60.89 L303.25,60.67 L304.09,60.46 L304.92,60.25 L305.76,60.04 L306.59,59.85 L307.43,59.65 L308.26,59.47 L309.09,59.28 L309.93,59.10 L310.76,58.93 L311.60,58.76 L312.43,58.60 L313.27,58.44 L314.10,58.29 L314.94,58.14 L315.77,58.00 L316.60,57.86 L316.60,57.86 L317.02,57.80 L317.44,57.73 L317.44,57.73 L317.86,57.67 L318.27,57.60 L318.27,57.60 L318.69,57.54 L319.11,57.48 L319.11,57.48 L319.53,57.42 L319.94,57.36 L319.94,57.36 L320.36,57.30 L320.78,57.25 L320.78,57.25 L321.19,57.19 L321.61,57.14 L321.61,57.14 L322.03,57.08 L322.45,57.03 L322.45,57.03 L322.86,56.98 L323.28,56.93 L323.28,56.93 L323.70,56.88 L324.12,56.83 L324.12,56.83 L324.53,56.78 L324.95,56.74 L325.37,56.69 L325.78,56.65 L325.78,56.65 L326.20,56.60 L326.62,56.56 L327.04,56.52 L327.45,56.48 L327.45,56.48 L327.87,56.43 L328.29,56.39 L328.71,56.36 L329.12,56.32 L329.12,56.32 L329.54,56.28 L329.96,56.24 L330.37,56.21 L330.79,56.17 L330.79,56.17 L331.21,56.14 L331.63,56.10 L332.04,56.07 L332.46,56.04 L332.46,56.04 L332.88,56.01 L333.29,55.97 L334.13,55.91 L334.96,55.85 L335.80,55.80 L336.63,55.74 L337.47,55.69 L338.30,55.64 L339.14,55.59 L339.97,55.54 L340.81,55.49 L341.64,55.45 L342.47,55.40 L343.31,55.36 L344.14,55.32 L344.98,55.28 L345.81,55.24 L346.65,55.20 L347.48,55.16 L348.32,55.12 L349.15,55.09 L349.99,55.05 L350.82,55.02 L351.65,54.98 L352.49,54.95 L353.32,54.92 L354.16,54.89 L354.99,54.86 L355.83,54.83 L356.66,54.80 L357.50,54.77 L358.33,54.74 L359.16,54.71 L360.00,54.68 L360.83,54.66 L361.67,54.63 L362.50,54.60 L363.34,54.58 L364.17,54.55 L365.01,54.53 L365.84,54.50 L366.67,54.48 L367.51,54.45 L368.34,54.43 L369.18,54.41 L370.01,54.39 L370.85,54.36 L371.68,54.34 L372.52,54.32 L373.35,54.30 L374.19,54.28 L375.02,54.26 L375.85,54.24 L376.69,54.22 L377.52,54.20 L378.36,54.18 L379.19,54.16 L380.03,54.14 L380.86,54.12 L381.70,54.10 L382.53,54.08 L383.37,54.07 L384.20,54.05 L385.03,54.03 L385.87,54.02 L386.70,54.00 L387.54,53.98 L388.37,53.97 L389.21,53.95 L390.04,53.93 L390.88,53.92 L391.71,53.90 L392.54,53.89 L393.38,53.87 L394.21,53.86 L395.05,53.84 L395.88,53.83 L396.72,53.82 L397.55,53.80 L398.39,53.79 L399.22,53.77 L400.05,53.76 L400.89,53.75 L401.72,53.73 L402.56,53.72 L403.39,53.71 L404.23,53.70 L405.06,53.68 L405.90,53.67 L406.73,53.66 L407.57,53.65 L408.40,53.64" stroke="#000000" stroke-dasharray="1.250 1.050 1.250 3.530"/>
</g>
<g fill="none" stroke-width="1.40">
<line x1="345.00" y1="153.10" x2="388.80" y2="153.10" stroke="#ff0000"/>
<line x1="345.00" y1="169.77" x2="388.80" y2="169.77" stroke="#00ff00" stroke-dasharray="2.600 0.950"/>
<line x1="345.00" y1="186.44" x2="388.80" y2="186.44" stroke="#0000ff" stroke-dasharray="1.300 1.660"/>
<line x1="345.00" y1="203.11" x2="388.80" y2="203.11" stroke="#ff00ff" stroke-dasharray="1.500 0.750"/>
<line x1="345.00" y1="219.78" x2="388.80" y2="219.78" stroke="#00ffff" stroke-dasharray="3.800 0.950 0.850 0.950"/>
<line x1="345.00" y1="236.45" x2="388.80" y2="236.45" stroke="#000000" stroke-dasharray="1.250 1.050 1.250 3.530"/>
</g>
<rect x="74.60" y="19.80" width="333.80" height="228.20" fill="none" stroke="#000" stroke-width="1.45"/>
<g font-family="'Liberation Serif', serif" font-size="16.5" fill="#000">
<text x="64.2" y="253.50" text-anchor="end">-30</text>
<text x="64.2" y="220.90" text-anchor="end">-25</text>
<text x="64.2" y="188.30" text-anchor="end">-20</text>
<text x="64.2" y="155.70" text-anchor="end">-15</text>
<text x="64.2" y="123.10" text-anchor="end">-10</text>
<text x="64.2" y="90.50" text-anchor="end">-5</text>
<text x="64.2" y="57.90" text-anchor="end">0</text>
<text x="64.2" y="25.30" text-anchor="end">5</text>
<text x="74.60" y="270.3" text-anchor="middle">-2</text>
<text x="116.32" y="270.3" text-anchor="middle">-1.5</text>
<text x="158.05" y="270.3" text-anchor="middle">-1</text>
<text x="199.77" y="270.3" text-anchor="middle">-0.5</text>
<text x="243.60" y="270.3" text-anchor="middle">0</text>
<text x="285.32" y="270.3" text-anchor="middle">0.5</text>
<text x="327.05" y="270.3" text-anchor="middle">1</text>
<text x="368.77" y="270.3" text-anchor="middle">1.5</text>
<text x="410.50" y="270.3" text-anchor="middle">2</text>
<text x="90.3" y="229.2">(a)</text>
<text y="159.10"><tspan x="270.1">Γ</tspan><tspan x="280.3">/</tspan><tspan x="284.6" font-family="'Liberation Sans', sans-serif" font-style="italic">t</tspan><tspan x="288.7">=</tspan><tspan x="297.9">0.000</tspan></text>
<text y="175.77"><tspan x="270.1">Γ</tspan><tspan x="280.3">/</tspan><tspan x="284.6" font-family="'Liberation Sans', sans-serif" font-style="italic">t</tspan><tspan x="288.7">=</tspan><tspan x="297.9">0.025</tspan></text>
<text y="192.44"><tspan x="270.1">Γ</tspan><tspan x="280.3">/</tspan><tspan x="284.6" font-family="'Liberation Sans', sans-serif" font-style="italic">t</tspan><tspan x="288.7">=</tspan><tspan x="297.9">0.050</tspan></text>
<text y="209.11"><tspan x="270.1">Γ</tspan><tspan x="280.3">/</tspan><tspan x="284.6" font-family="'Liberation Sans', sans-serif" font-style="italic">t</tspan><tspan x="288.7">=</tspan><tspan x="297.9">0.100</tspan></text>
<text y="225.78"><tspan x="270.1">Γ</tspan><tspan x="280.3">/</tspan><tspan x="284.6" font-family="'Liberation Sans', sans-serif" font-style="italic">t</tspan><tspan x="288.7">=</tspan><tspan x="297.9">0.200</tspan></text>
<text y="242.45"><tspan x="270.1">Γ</tspan><tspan x="280.3">/</tspan><tspan x="284.6" font-family="'Liberation Sans', sans-serif" font-style="italic">t</tspan><tspan x="288.7">=</tspan><tspan x="297.9">0.400</tspan></text>
<text y="294.9"><tspan x="231.3" font-size="19">μ</tspan><tspan x="241.6">/</tspan><tspan x="246.7" font-family="'Liberation Sans', sans-serif" font-style="italic">t</tspan></text>
<text transform="rotate(-90)" y="20.2"><tspan x="-151.6" font-size="18.5">χ</tspan><tspan x="-142.9">/</tspan><tspan x="-138.05">|</tspan><tspan x="-134.2" font-size="18.5">χ</tspan><tspan x="-126.4" font-size="13.2" dy="5.0">0</tspan><tspan x="-118.9" dy="-5.0">|</tspan></text>
</g>
</svg>
</body></html>
